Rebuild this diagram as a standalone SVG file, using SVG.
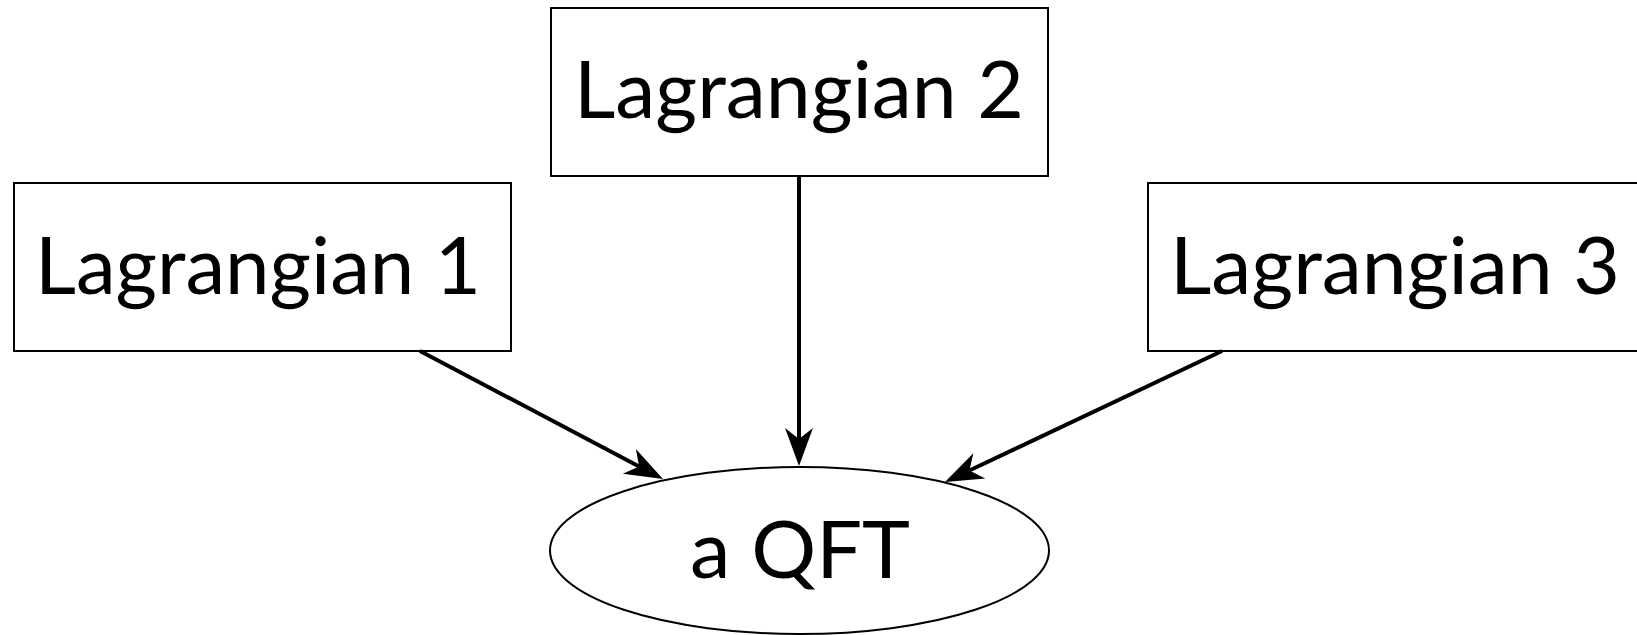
<svg xmlns="http://www.w3.org/2000/svg" width="1637" height="635" viewBox="0 0 1637 635">
  <style>
    .box { fill: #ffffff; stroke: #000000; stroke-width: 2; }
    .label { font-family: Lato, "Noto Sans", sans-serif; font-size: 80px; fill: #000000; text-anchor: middle; }
    .edge { fill: none; stroke: #000000; stroke-width: 4; marker-end: url(#vee); }
  </style>
  <defs>
    <marker id="vee" markerUnits="userSpaceOnUse" markerWidth="40" markerHeight="30" viewBox="0 -15 40 30" refX="11" refY="0" orient="auto" overflow="visible">
      <path d="M0,-14 L38,0 L0,14 L11,0 Z" fill="#000000"/>
    </marker>
  </defs>
  <rect width="1637" height="635" fill="#ffffff"/>

  <g id="lagrangian2">
    <rect class="box" x="551" y="8" width="497" height="168"/>
    <text class="label" x="799" y="118" textLength="450" lengthAdjust="spacingAndGlyphs">Lagrangian 2</text>
  </g>

  <g id="lagrangian1">
    <rect class="box" x="14" y="183" width="497" height="168"/>
    <text class="label" x="258" y="294" textLength="446" lengthAdjust="spacingAndGlyphs">Lagrangian 1</text>
  </g>

  <g id="lagrangian3">
    <rect class="box" x="1148" y="183" width="497" height="168"/>
    <text class="label" x="1395" y="294" textLength="450" lengthAdjust="spacingAndGlyphs">Lagrangian 3</text>
  </g>

  <g id="qft">
    <ellipse class="box" cx="799.5" cy="550.5" rx="249.5" ry="83.5"/>
    <text class="label" x="800" y="578" textLength="220" lengthAdjust="spacingAndGlyphs">a QFT</text>
  </g>

  <g id="connectors">
    <line class="edge" x1="420" y1="351" x2="639.1" y2="466.4"/>
    <line class="edge" x1="799" y1="176" x2="799" y2="439"/>
    <line class="edge" x1="1222" y1="351" x2="969.4" y2="470.5"/>
  </g>
</svg>
